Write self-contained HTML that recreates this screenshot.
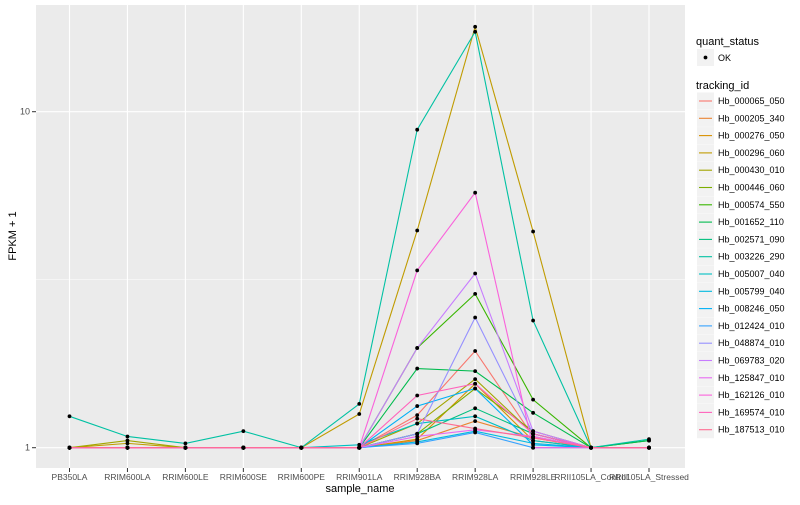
<!DOCTYPE html>
<html><head><meta charset="utf-8"><style>
body{margin:0;background:#fff;font-family:"Liberation Sans",sans-serif}
svg text{font-family:"Liberation Sans",sans-serif}
</style></head><body>
<svg id="chart" width="800" height="500" xmlns="http://www.w3.org/2000/svg">
<rect x="0" y="0" width="800" height="500" fill="#fff"/>
<rect x="36" y="5" width="649" height="463" fill="#ebebeb"/>
<g id="grid"></g><g id="lines"></g><g id="pts"></g><g id="axes"></g><g id="legend"></g>
</svg>
<script>
const categories=["PB350LA","RRIM600LA","RRIM600LE","RRIM600SE","RRIM600PE","RRIM901LA","RRIM928BA","RRIM928LA","RRIM928LE","RRII105LA_Control","RRII105LA_Stressed"];
const ids=["Hb_000065_050","Hb_000205_340","Hb_000276_050","Hb_000296_060","Hb_000430_010","Hb_000446_060","Hb_000574_550","Hb_001652_110","Hb_002571_090","Hb_003226_290","Hb_005007_040","Hb_005799_040","Hb_008246_050","Hb_012424_010","Hb_048874_010","Hb_069783_020","Hb_125847_010","Hb_162126_010","Hb_169574_010","Hb_187513_010"];
const colors=["#F8766D","#EA8331","#D89000","#C09B00","#A3A500","#7CAE00","#39B600","#00BB4E","#00BF7D","#00C1A3","#00BFC4","#00BAE0","#00B0F6","#35A2FF","#9590FF","#C77CFF","#E76BF3","#FA62DB","#FF62BC","#FF6C91"];
const s0=[1,1,1,1,1,1,1.25,1.94,1.08,1,1];
const s1=[1,1,1,1,1,1,1.05,1.20,1.07,1,1];
const s2=[1,1,1,1,1,1,1.06,1.55,1.05,1,1];
const s3=[1,1.03,1,1,1,1.26,4.43,17.9,4.4,1,1];
const s4=[1,1.05,1,1,1,1,1.18,1.60,1.1,1,1];
const s5=[1,1,1,1,1,1,1.1,1.5,1.12,1,1];
const s6=[1,1,1,1,1,1,1.98,2.87,1.39,1,1.05];
const s7=[1,1,1,1,1,1,1.72,1.69,1.27,1,1.05];
const s8=[1,1,1,1,1,1,1.1,1.31,1.1,1,1];
const s9=[1.24,1.08,1.03,1.12,1,1.35,8.84,17.3,2.39,1,1.06];
const s10=[1,1,1,1,1,1.02,1.18,1.24,1.05,1,1];
const s11=[1,1,1,1,1,1,1.04,1.12,1.03,1,1];
const s12=[1,1,1,1,1,1,1.33,1.50,1.02,1,1];
const s13=[1,1,1,1,1,1,1.03,1.11,1.0,1,1];
const s14=[1,1,1,1,1,1,1.1,2.44,1.1,1,1];
const s15=[1,1,1,1,1,1,1.98,3.3,1.12,1,1];
const s16=[1,1,1,1,1,1,1.08,1.13,1.08,1,1];
const s17=[1,1,1,1,1,1,3.37,5.74,1.0,1,1];
const s18=[1,1,1,1,1,1,1.43,1.55,1.1,1,1];
const s19=[1,1,1,1,1,1,1.22,1.14,1.07,1,1];
const series=[s0,s1,s2,s3,s4,s5,s6,s7,s8,s9,s10,s11,s12,s13,s14,s15,s16,s17,s18,s19];
const yTicks=[1,10];
const yMinor=[3.1623];
const NS="http://www.w3.org/2000/svg";
function X(i){return 69.5+i*57.95;}
function Y(v){return 447.7-336*Math.log10(v);}
function mk(tag,attrs,parent){const e=document.createElementNS(NS,tag);for(const k in attrs)e.setAttribute(k,attrs[k]);parent.appendChild(e);return e;}
const g=document.getElementById('grid'),gl=document.getElementById('lines'),gp=document.getElementById('pts'),ga=document.getElementById('axes'),lg=document.getElementById('legend');
yMinor.forEach(v=>{const l=mk('line',{x1:36,x2:685,y1:Y(v),y2:Y(v),stroke:'#fff','stroke-width':0.5},g);

});
yTicks.forEach(v=>{const l=mk('line',{x1:36,x2:685,y1:Y(v),y2:Y(v),stroke:'#fff','stroke-width':1.1},g);


const t=mk('line',{x1:32,x2:36,y1:Y(v),y2:Y(v),stroke:'#333','stroke-width':1},ga);


const tx=mk('text',{x:30,y:Y(v)+3,'text-anchor':'end','font-size':9,fill:'#4d4d4d'},ga);tx.textContent=String(v);

});
categories.forEach((c,i)=>{const l=mk('line',{x1:X(i),x2:X(i),y1:5,y2:468,stroke:'#fff','stroke-width':1.1},g);


const t=mk('line',{x1:X(i),x2:X(i),y1:468,y2:472,stroke:'#333','stroke-width':1},ga);


const tx=mk('text',{x:X(i),y:480,'text-anchor':'middle','font-size':8.5,fill:'#4d4d4d'},ga);tx.textContent=c;

});
series.forEach((s,k)=>{const p=mk('polyline',{points:s.map((v,i)=>X(i)+','+Y(v)).join(' '),fill:'none',stroke:colors[k],'stroke-width':1.1},gl);


s.forEach((v,i)=>{const c=mk('circle',{cx:X(i),cy:Y(v),r:1.9,fill:'#000'},gp);

});});
const xt=mk('text',{x:360,y:492,'text-anchor':'middle','font-size':11,fill:'#000'},ga);xt.textContent='sample_name';


const yt=mk('text',{x:0,y:0,'text-anchor':'middle','font-size':11,fill:'#000',transform:'translate(16,236) rotate(-90)'},ga);yt.textContent='FPKM + 1';


const q=mk('text',{x:696,y:45,'font-size':11,fill:'#000'},lg);q.textContent='quant_status';


mk('rect',{x:697,y:49,width:17,height:17,fill:'#f2f2f2'},lg);
const qd=mk('circle',{cx:705.5,cy:57.5,r:1.9,fill:'#000'},lg);


const qo=mk('text',{x:718,y:61,'font-size':9,fill:'#000'},lg);qo.textContent='OK';


const tt=mk('text',{x:696,y:89,'font-size':11,fill:'#000'},lg);tt.textContent='tracking_id';


ids.forEach((id,k)=>{const y=101+k*17.3;
mk('rect',{x:697,y:y-8.5,width:17,height:17,fill:'#f2f2f2'},lg);
const l=mk('line',{x1:699,x2:712,y1:y,y2:y,stroke:colors[k],'stroke-width':1.1},lg);


const t=mk('text',{x:718,y:y+3,'font-size':9,fill:'#000'},lg);t.textContent=id;

});
</script>
</body></html>
